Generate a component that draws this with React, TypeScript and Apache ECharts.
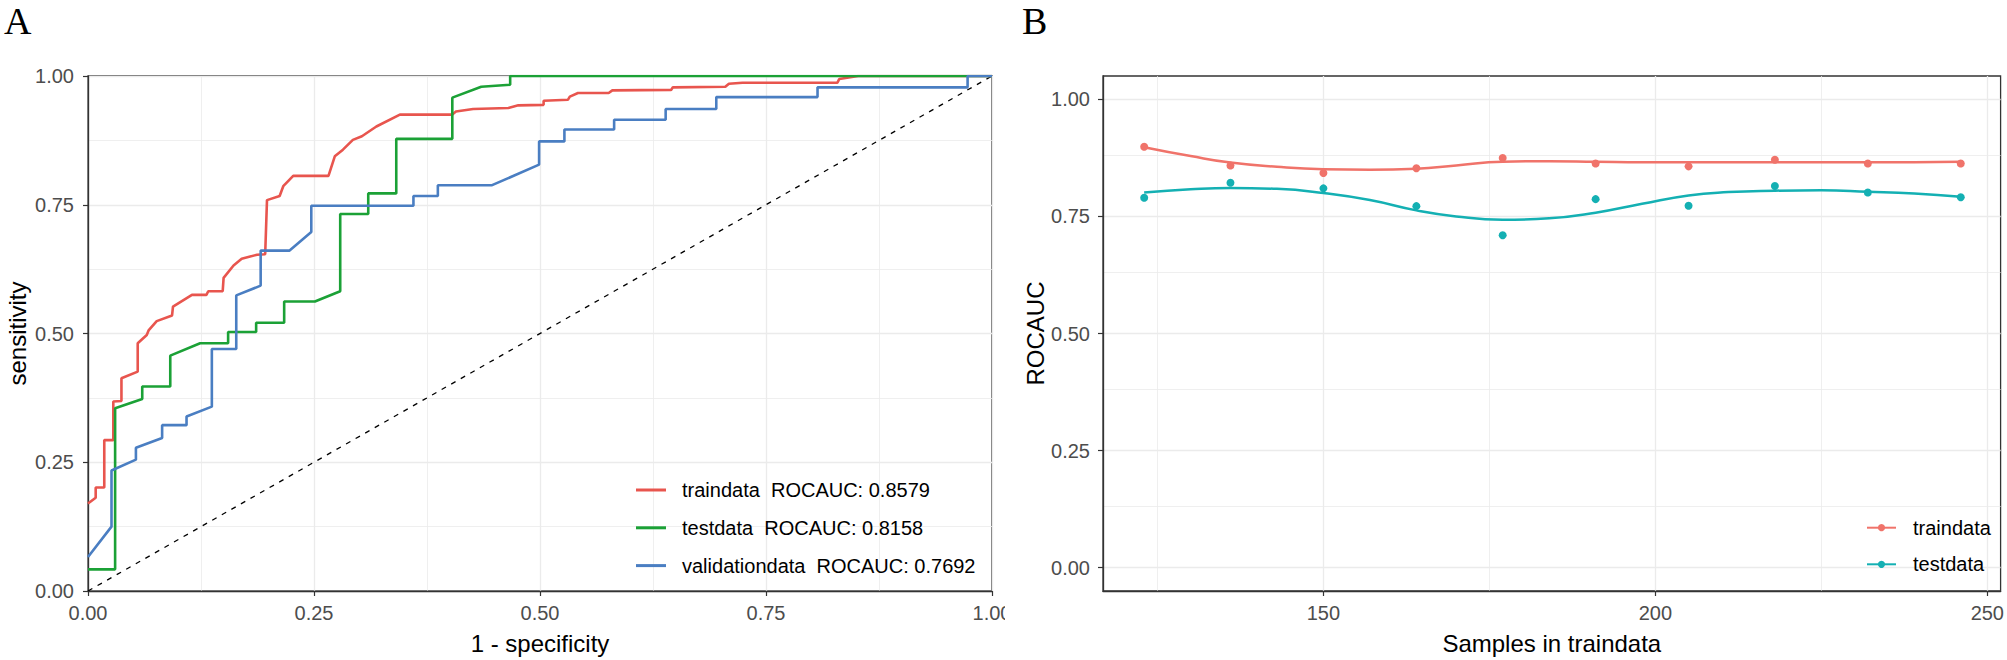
import React, { useEffect, useRef } from "react";
import * as echarts from "echarts";

// ---------- Panel A: ROC curves ----------
const ROC_NAMES = ["traindata", "testdata", "validationdata"];
const ROC_AUC = ["0.8579", "0.8158", "0.7692"];
const ROC_COLORS = ["#E8554E", "#1BA136", "#4A7EC2"];

const TRAIN_FPR = [0, 0.0085, 0.0085, 0.018, 0.018, 0.028, 0.028, 0.037, 0.037, 0.055, 0.055, 0.065, 0.067, 0.076, 0.093, 0.094, 0.115, 0.131, 0.133, 0.149, 0.15, 0.161, 0.17, 0.187, 0.196, 0.198, 0.212, 0.216, 0.227, 0.266, 0.273, 0.282, 0.293, 0.303, 0.319, 0.345, 0.403, 0.407, 0.426, 0.465, 0.476, 0.504, 0.504, 0.531, 0.533, 0.542, 0.576, 0.58, 0.645, 0.647, 0.705, 0.709, 0.724, 0.829, 0.831, 0.852, 1];
const TRAIN_TPR = [0.17, 0.181, 0.201, 0.201, 0.293, 0.293, 0.368, 0.369, 0.413, 0.426, 0.481, 0.497, 0.506, 0.524, 0.535, 0.552, 0.575, 0.575, 0.582, 0.582, 0.608, 0.632, 0.645, 0.653, 0.654, 0.759, 0.767, 0.786, 0.806, 0.806, 0.844, 0.857, 0.876, 0.883, 0.902, 0.925, 0.925, 0.931, 0.936, 0.938, 0.943, 0.944, 0.952, 0.954, 0.96, 0.967, 0.967, 0.972, 0.973, 0.978, 0.979, 0.985, 0.987, 0.987, 0.994, 1, 1];

const TEST_FPR = [0, 0.03, 0.03, 0.06, 0.06, 0.091, 0.091, 0.124, 0.155, 0.155, 0.186, 0.186, 0.217, 0.217, 0.251, 0.279, 0.279, 0.31, 0.31, 0.341, 0.341, 0.403, 0.403, 0.435, 0.467, 0.467, 1];
const TEST_TPR = [0.042, 0.042, 0.355, 0.373, 0.397, 0.397, 0.457, 0.481, 0.481, 0.503, 0.503, 0.521, 0.521, 0.562, 0.562, 0.582, 0.732, 0.732, 0.772, 0.772, 0.878, 0.878, 0.958, 0.979, 0.983, 1, 1];

const VALID_FPR = [0, 0.026, 0.026, 0.053, 0.053, 0.082, 0.082, 0.109, 0.109, 0.137, 0.137, 0.164, 0.164, 0.191, 0.191, 0.223, 0.247, 0.247, 0.36, 0.36, 0.387, 0.387, 0.447, 0.499, 0.499, 0.527, 0.527, 0.582, 0.582, 0.639, 0.639, 0.695, 0.695, 0.807, 0.807, 0.973, 0.973, 1];
const VALID_TPR = [0.066, 0.125, 0.234, 0.255, 0.278, 0.297, 0.322, 0.322, 0.339, 0.358, 0.47, 0.47, 0.574, 0.593, 0.661, 0.661, 0.697, 0.748, 0.748, 0.767, 0.767, 0.788, 0.788, 0.828, 0.873, 0.873, 0.896, 0.896, 0.915, 0.915, 0.936, 0.936, 0.959, 0.959, 0.978, 0.978, 1, 1];

const DIAG = [0, 1];

// ---------- Panel B: ROCAUC vs samples ----------
const SAMPLES = [123, 136, 150, 164, 177, 191, 205, 218, 232, 246];
const TRAIN_AUC = [0.899, 0.859, 0.843, 0.853, 0.875, 0.863, 0.857, 0.871, 0.863, 0.863];
const TEST_AUC = [0.79, 0.822, 0.81, 0.772, 0.71, 0.787, 0.773, 0.815, 0.801, 0.791];
const FIT_X = [123, 130, 136, 143, 150, 157, 164, 170, 177, 184, 191, 198, 205, 211, 218, 225, 232, 239, 246];
const TRAIN_FIT = [0.898, 0.879, 0.865, 0.856, 0.851, 0.85, 0.852, 0.859, 0.867, 0.868, 0.867, 0.866, 0.866, 0.866, 0.866, 0.866, 0.866, 0.866, 0.867];
const TEST_FIT = [0.801, 0.808, 0.811, 0.809, 0.8, 0.785, 0.763, 0.75, 0.743, 0.746, 0.758, 0.777, 0.795, 0.802, 0.805, 0.806, 0.803, 0.799, 0.792];
const B_NAMES = ["traindata", "testdata"];
const B_COLORS = ["#F0736A", "#14B0B3"];
const B_X_TICKS = [150, 200, 250];
const B_X_GRID = [125, 150, 175, 200, 225, 250];
const B_Y_TICKS = [0, 0.25, 0.5, 0.75, 1];
const B_Y_GRID = [0, 0.125, 0.25, 0.375, 0.5, 0.625, 0.75, 0.875, 1];

const SANS = "'Liberation Sans', Arial, sans-serif";
const SERIF = "'Liberation Serif', 'Times New Roman', serif";
const GRID_COLOR = "#EBEBEB";
const AXIS_DARK = "#333333";
const LABEL_COLOR = "#4D4D4D";

const zip = (xs: number[], ys: number[]) => xs.map((x, i) => [x, ys[i]]);

export default function App() {
  const ref = useRef<HTMLDivElement>(null);

  useEffect(() => {
    if (!ref.current) return;
    document.body.style.margin = "0";
    const chart = echarts.init(ref.current, undefined, { renderer: "svg" });

    const axisLabel = (fmt: (v: number) => string, margin: number, extra: any = {}) => ({
      fontSize: 20,
      color: LABEL_COLOR,
      fontFamily: SANS,
      margin,
      formatter: fmt,
      ...extra,
    });
    const nameStyle = { fontSize: 24, color: "#000", fontFamily: SANS };
    const fmt2 = (v: number) => v.toFixed(2);
    const axisLine = { show: true, onZero: false, lineStyle: { color: AXIS_DARK, width: 1.3 } };

    const rocSeries = [
      [TRAIN_FPR, TRAIN_TPR],
      [TEST_FPR, TEST_TPR],
      [VALID_FPR, VALID_TPR],
    ].map(([xs, ys], i) => ({
      name: ROC_NAMES[i],
      type: "line",
      xAxisIndex: 0,
      yAxisIndex: 0,
      data: zip(xs, ys),
      showSymbol: false,
      symbol: "none",
      color: ROC_COLORS[i],
      lineStyle: { color: ROC_COLORS[i], width: 2.6 },
      z: 3,
    }));

    const bGridSeries = {
      name: "bgrid",
      type: "line",
      xAxisIndex: 1,
      yAxisIndex: 1,
      data: [],
      z: 0,
      markLine: {
        silent: true,
        z: 0,
        symbol: ["none", "none"],
        label: { show: false },
        animation: false,
        data: [
          ...B_X_GRID.map((v) => ({
            xAxis: v,
            lineStyle: { color: GRID_COLOR, type: "solid", width: B_X_TICKS.includes(v) ? 1.3 : 0.8 },
          })),
          ...B_Y_GRID.map((v) => ({
            yAxis: v,
            lineStyle: { color: GRID_COLOR, type: "solid", width: B_Y_TICKS.includes(v) ? 1.3 : 0.8 },
          })),
        ],
      },
    };

    const bFits = [TRAIN_FIT, TEST_FIT].map((ys, i) => ({
      name: "B:" + B_NAMES[i],
      type: "line",
      xAxisIndex: 1,
      yAxisIndex: 1,
      data: zip(FIT_X, ys),
      smooth: true,
      symbol: "circle",
      showSymbol: false,
      color: B_COLORS[i],
      lineStyle: { color: B_COLORS[i], width: 2.5 },
      itemStyle: { color: B_COLORS[i] },
      z: 3,
    }));
    const bPoints = [TRAIN_AUC, TEST_AUC].map((ys, i) => ({
      name: "B:" + B_NAMES[i],
      type: "scatter",
      xAxisIndex: 1,
      yAxisIndex: 1,
      data: zip(SAMPLES, ys),
      symbol: "circle",
      symbolSize: 8,
      itemStyle: { color: B_COLORS[i], opacity: 1 },
      z: 4,
    }));

    const option: any = {
      animation: false,
      backgroundColor: "#ffffff",
      textStyle: { fontFamily: SANS },
      grid: [
        { left: 88, top: 76, width: 904, height: 518, show: true, borderColor: AXIS_DARK, borderWidth: 1.3, backgroundColor: "transparent" },
        { left: 1103, top: 76, width: 900, height: 518, show: true, borderColor: AXIS_DARK, borderWidth: 1.3, backgroundColor: "transparent" },
      ],
      xAxis: [
        {
          type: "value",
          gridIndex: 0,
          min: 0,
          max: 1,
          interval: 0.25,
          name: "1 - specificity",
          nameLocation: "middle",
          nameGap: 40,
          nameTextStyle: nameStyle,
          axisLine,
          axisTick: { show: true, length: 5, lineStyle: { color: AXIS_DARK, width: 1.2 } },
          axisLabel: axisLabel(fmt2, 12, { showMinLabel: true, showMaxLabel: true }),
          splitLine: { show: true, lineStyle: { color: GRID_COLOR, width: 1.3 } },
          minorTick: { show: false, splitNumber: 2 },
          minorSplitLine: { show: true, lineStyle: { color: GRID_COLOR, width: 0.8 } },
        },
        {
          type: "value",
          gridIndex: 1,
          min: 116.8,
          max: 252,
          name: "Samples in traindata",
          nameLocation: "middle",
          nameGap: 40,
          nameTextStyle: nameStyle,
          axisLine,
          axisTick: { show: true, length: 5, customValues: B_X_TICKS, lineStyle: { color: AXIS_DARK, width: 1.2 } },
          axisLabel: axisLabel((v: number) => String(v), 12, { customValues: B_X_TICKS }),
          splitLine: { show: false },
        },
      ],
      yAxis: [
        {
          type: "value",
          gridIndex: 0,
          min: 0,
          max: 1,
          interval: 0.25,
          name: "sensitivity",
          nameLocation: "middle",
          nameGap: 59,
          nameTextStyle: nameStyle,
          axisLine,
          axisTick: { show: true, length: 5, lineStyle: { color: AXIS_DARK, width: 1.2 } },
          axisLabel: axisLabel(fmt2, 14, { showMinLabel: true, showMaxLabel: true }),
          splitLine: { show: true, lineStyle: { color: GRID_COLOR, width: 1.3 } },
          minorTick: { show: false, splitNumber: 2 },
          minorSplitLine: { show: true, lineStyle: { color: GRID_COLOR, width: 0.8 } },
        },
        {
          type: "value",
          gridIndex: 1,
          min: -0.05,
          max: 1.05,
          name: "ROCAUC",
          nameLocation: "middle",
          nameGap: 55,
          nameTextStyle: nameStyle,
          axisLine,
          axisTick: { show: true, length: 5, customValues: B_Y_TICKS, lineStyle: { color: AXIS_DARK, width: 1.2 } },
          axisLabel: axisLabel(fmt2, 13, { customValues: B_Y_TICKS }),
          splitLine: { show: false },
        },
      ],
      legend: [
        {
          data: ROC_NAMES,
          orient: "vertical",
          left: 636,
          top: 480,
          padding: 0,
          icon: "rect",
          itemWidth: 30,
          itemHeight: 3,
          itemGap: 17.8,
          selectedMode: false,
          formatter: (name: string) => `${name}  ROCAUC: ${ROC_AUC[ROC_NAMES.indexOf(name)]}`,
          textStyle: { fontSize: 20, lineHeight: 20, color: "#000", fontFamily: SANS, padding: [0, 0, 0, 11] },
        },
        {
          data: B_NAMES.map((n) => "B:" + n),
          orient: "vertical",
          left: 1866,
          top: 517.7,
          padding: 0,
          itemWidth: 29,
          itemHeight: 9,
          itemGap: 16.6,
          selectedMode: false,
          formatter: (name: string) => name.replace("B:", ""),
          textStyle: { fontSize: 20, lineHeight: 20, color: "#000", fontFamily: SANS, padding: [0, 0, 0, 12] },
        },
      ],
      graphic: [
        { type: "text", left: 4, top: 2, style: { text: "A", fontSize: 38, fontFamily: SERIF, fill: "#000" } },
        { type: "text", left: 1022, top: 2, style: { text: "B", fontSize: 38, fontFamily: SERIF, fill: "#000" } },
        { type: "rect", left: 1005, top: 600, z: 100, shape: { width: 30, height: 36 }, style: { fill: "#ffffff" } },
      ],
      series: [
        ...rocSeries,
        {
          name: "diagonal",
          type: "line",
          xAxisIndex: 0,
          yAxisIndex: 0,
          data: zip(DIAG, DIAG),
          showSymbol: false,
          symbol: "none",
          lineStyle: { color: "#000", width: 1.3, type: [5, 6] },
          z: 2,
        },
        bGridSeries,
        ...bFits,
        ...bPoints,
      ],
    };

    chart.setOption(option);
    return () => chart.dispose();
  }, []);

  return <div ref={ref} style={{ position: "absolute", left: 0, top: 0, width: 2007, height: 660 }} />;
}
